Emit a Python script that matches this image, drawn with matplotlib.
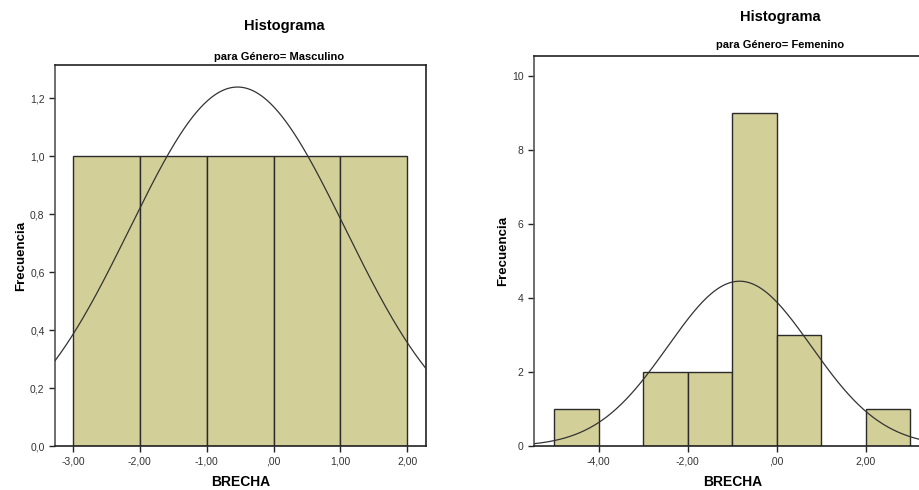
import numpy as np
import matplotlib.pyplot as plt
from matplotlib.ticker import FuncFormatter

plt.rcParams['font.family'] = ['Liberation Sans', 'DejaVu Sans']

# Masculino: bins of width 1, counts per bin
masc_edges = [-3, -2, -1, 0, 1, 2]
masc_counts = [1, 1, 1, 1, 1]
masc_mean, masc_sd, masc_n = -0.54, 1.61, 5

# Femenino
fem_left = [-5, -3, -2, -1, 0, 2]
fem_counts = [1, 2, 2, 9, 3, 1]
fem_mean, fem_sd, fem_n = -0.83, 1.61, 18

bar_color = '#D3CF98'
edge_color = '#2b2b2b'
tick_color = '#333333'


def comma_fmt(decimals):
    def f(v, pos):
        s = f'{v:.{decimals}f}'.replace('.', ',')
        if s.startswith('0,') and decimals == 2:
            s = s[1:]
        if s.startswith('-0,') and decimals == 2:
            s = '-' + s[2:]
        return s
    return FuncFormatter(f)


def normal_curve(ax, mean, sd, n, xmin, xmax):
    x = np.linspace(xmin, xmax, 400)
    y = n * 1.0 / (sd * np.sqrt(2 * np.pi)) * np.exp(-0.5 * ((x - mean) / sd) ** 2)
    ax.plot(x, y, color='#333333', lw=0.9, zorder=3, clip_on=True)


def style_axes(ax):
    for s in ax.spines.values():
        s.set_color('#222222')
        s.set_linewidth(1.2)
    ax.spines['left'].set_color('#555555')
    ax.tick_params(axis='both', colors='#222222', labelcolor=tick_color,
                   labelsize=7.5, length=4, width=1)
    ax.set_xlabel('BRECHA', fontsize=10, fontweight='bold', labelpad=6)
    ax.set_ylabel('Frecuencia', fontsize=9.5, fontweight='bold', labelpad=2)


fig = plt.figure(figsize=(9.2, 4.9), dpi=100)
W, H = 920, 490

# left panel: axes pixel box x 55..426, y 65..446
ax1 = fig.add_axes([55 / W, 1 - 446 / H, (426 - 55) / W, (446 - 65) / H])
ax1.bar(masc_edges[:-1], masc_counts, width=1, align='edge', color=bar_color,
        edgecolor=edge_color, linewidth=1.0, zorder=2)
ax1.set_xlim(-3.27, 2.28)
ax1.set_ylim(0, 1.315)
normal_curve(ax1, masc_mean, masc_sd, masc_n, -3.27, 2.28)
ax1.set_xticks([-3, -2, -1, 0, 1, 2])
ax1.set_yticks([0, 0.2, 0.4, 0.6, 0.8, 1.0, 1.2])
ax1.xaxis.set_major_formatter(comma_fmt(2))
ax1.yaxis.set_major_formatter(comma_fmt(1))
style_axes(ax1)

# right panel: axes pixel box x 534..~930 (cut off), y 56..446
ax2 = fig.add_axes([534 / W, 1 - 446.4 / H, (932 - 534) / W, (446.4 - 56) / H])
ax2.bar(fem_left, fem_counts, width=1, align='edge', color=bar_color,
        edgecolor=edge_color, linewidth=1.0, zorder=2)
ax2.set_xlim(-5.45, -5.45 + (932 - 534) / 44.5)
ax2.set_ylim(0, 10.54)
normal_curve(ax2, fem_mean, fem_sd, fem_n, -5.45, 3.5)
ax2.set_xticks([-4, -2, 0, 2])
ax2.set_yticks([0, 2, 4, 6, 8, 10])
ax2.xaxis.set_major_formatter(comma_fmt(2))
ax2.yaxis.set_major_formatter(FuncFormatter(lambda v, p: f'{v:.0f}'))
style_axes(ax2)

# titles
fig.text(284 / W, 1 - 26 / H, 'Histograma', ha='center', va='center',
         fontsize=10.5, fontweight='bold')
fig.text(279 / W, 1 - 57 / H, 'para Género= Masculino', ha='center', va='center',
         fontsize=8, fontweight='bold')
fig.text(780 / W, 1 - 17 / H, 'Histograma', ha='center', va='center',
         fontsize=10.5, fontweight='bold')
fig.text(780 / W, 1 - 45 / H, 'para Género= Femenino', ha='center', va='center',
         fontsize=8, fontweight='bold')

fig.savefig('out.png', dpi=100)
